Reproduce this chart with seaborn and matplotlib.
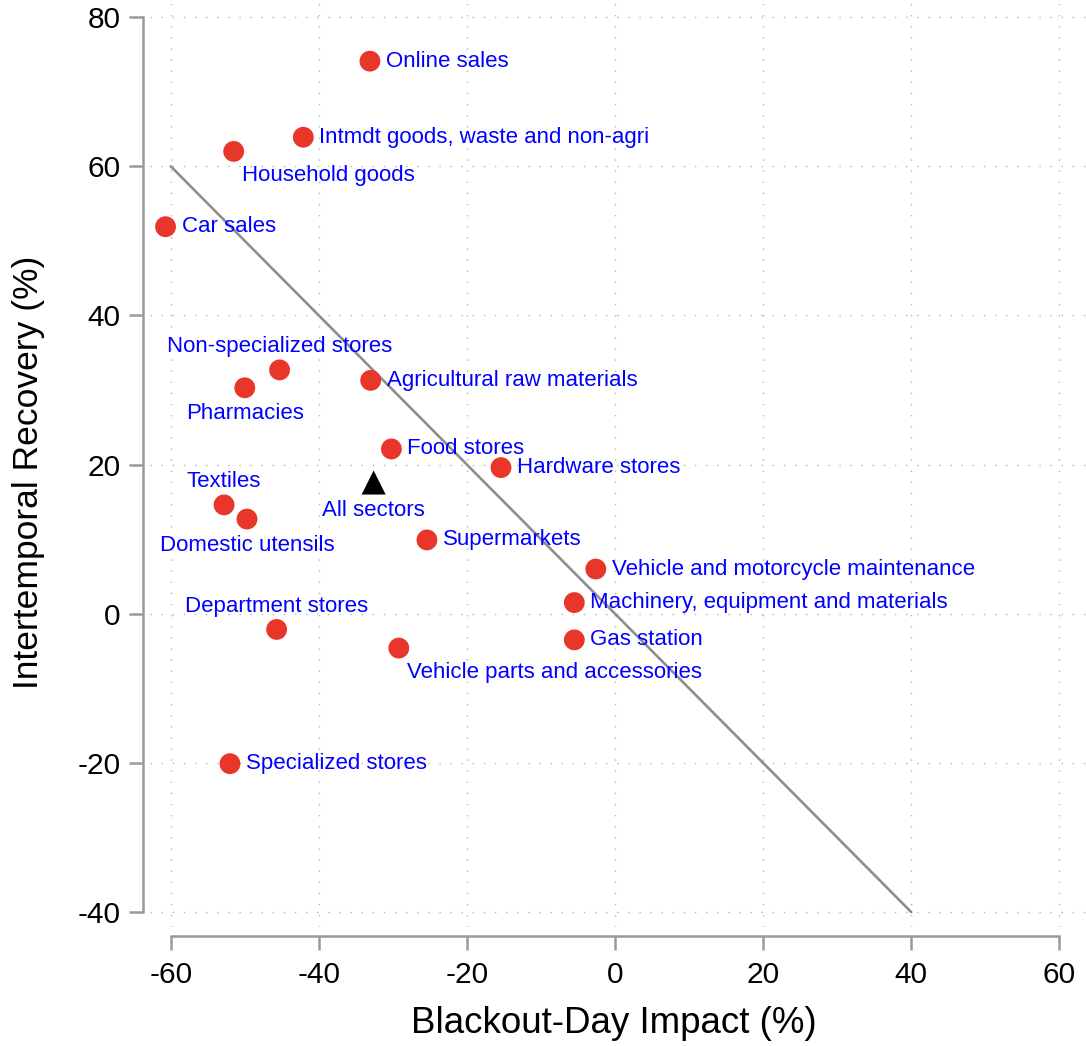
import matplotlib
matplotlib.use("Agg")
import matplotlib.pyplot as plt
import seaborn as sns
import pandas as pd

sectors = ["Online sales", "Intmdt goods, waste and non-agri", "Household goods", "Car sales",
           "Non-specialized stores", "Pharmacies", "Agricultural raw materials", "Food stores",
           "Hardware stores", "Textiles", "Domestic utensils", "Supermarkets",
           "Vehicle and motorcycle maintenance", "Machinery, equipment and materials",
           "Gas station", "Department stores", "Vehicle parts and accessories", "Specialized stores"]
impact = [-33.1, -42.1, -51.5, -60.7, -45.3, -50.0, -33.0, -30.2, -15.4, -52.8, -49.7, -25.4,
          -2.6, -5.5, -5.5, -45.7, -29.2, -52.0]
recovery = [74.1, 63.9, 62.0, 51.9, 32.7, 30.3, 31.3, 22.1, 19.6, 14.6, 12.7, 9.9,
            6.0, 1.5, -3.5, -2.1, -4.6, -20.1]
# label position (Stata clock style): 3 = right, 12 = above, 6 = below, 5 = below-right
label_pos = [3, 3, 5, 3, 12, 6, 3, 3, 3, 12, 6, 3, 3, 3, 3, 12, 5, 3]

all_label = "All sectors"
all_impact = [-32.6]
all_recovery = [17.6]

line_x = [-60, 40]
line_y = [60, -40]

x_ticks = [-60, -40, -20, 0, 20, 40, 60]
y_ticks = [-40, -20, 0, 20, 40, 60, 80]

sns.set_style("white")
plt.rcParams["font.family"] = ["Liberation Sans", "DejaVu Sans"]

fig = plt.figure(figsize=(10.86, 10.46), dpi=100)
ax = fig.add_axes([150 / 1086, 119 / 1046, 936 / 1086, 927 / 1046])

ax.set_xlim(-62.8, 63.6)
ax.set_ylim(-42.0, 82.3)

grid_kw = dict(color="#b5b5b5", linewidth=1.0, linestyle=(0, (1, 7)), zorder=0)
for xv in x_ticks:
    ax.axvline(xv, **grid_kw)
for yv in y_ticks:
    ax.axhline(yv, **grid_kw)

sns.lineplot(x=line_x, y=line_y, ax=ax, color="#8e8e8e", linewidth=1.9, zorder=2)

df = pd.DataFrame({"impact": impact, "recovery": recovery, "sector": sectors})
sns.scatterplot(data=df, x="impact", y="recovery", ax=ax, color="#e8372a", s=225,
                edgecolor="none", linewidth=0, zorder=3)
sns.scatterplot(x=all_impact, y=all_recovery, ax=ax, color="black", marker="^", s=300,
                edgecolor="none", linewidth=0, zorder=3)

offsets = {3: (16, 0, "left"), 12: (0, 23, "center"), 6: (0, -26, "center"), 5: (8, -24, "left")}
for name, xv, yv, p in zip(sectors, impact, recovery, label_pos):
    dx, dy, ha = offsets[p]
    ax.annotate(name, (xv, yv), xytext=(dx, dy), textcoords="offset pixels",
                ha=ha, va="center", color="#0000ff", fontsize=16, zorder=4)
ax.annotate(all_label, (all_impact[0], all_recovery[0]), xytext=(0, -28),
            textcoords="offset pixels", ha="center", va="center", color="#0000ff",
            fontsize=16, zorder=4)

for s in ["top", "right"]:
    ax.spines[s].set_visible(False)
ax.spines["left"].set_position(("outward", 5.2))
ax.spines["bottom"].set_position(("outward", 6.5))
ax.spines["left"].set_bounds(-40, 80)
ax.spines["bottom"].set_bounds(-60, 60)
for s in ["left", "bottom"]:
    ax.spines[s].set_color("#9a9a9a")
    ax.spines[s].set_linewidth(1.8)

ax.set_xticks(x_ticks)
ax.set_yticks(y_ticks)
ax.set_xticklabels([str(v) for v in x_ticks])
ax.set_yticklabels([str(v) for v in y_ticks])
ax.tick_params(axis="both", which="major", bottom=True, left=True, direction="out",
               length=10, width=1.8, color="#9a9a9a", labelsize=21.5, labelcolor="black")
ax.tick_params(axis="y", pad=6)
ax.tick_params(axis="x", pad=8)

ax.set_xlabel("Blackout-Day Impact (%)", fontsize=26.5, color="black")
ax.set_ylabel("Intertemporal Recovery (%)", fontsize=25.5, color="black")
ax.yaxis.label.set_verticalalignment("center")
ax.xaxis.label.set_verticalalignment("center")
ax.xaxis.set_label_coords(0.495, -0.1036)
ax.yaxis.set_label_coords(-0.130, 0.49)

fig.savefig("out.png", dpi=100)
